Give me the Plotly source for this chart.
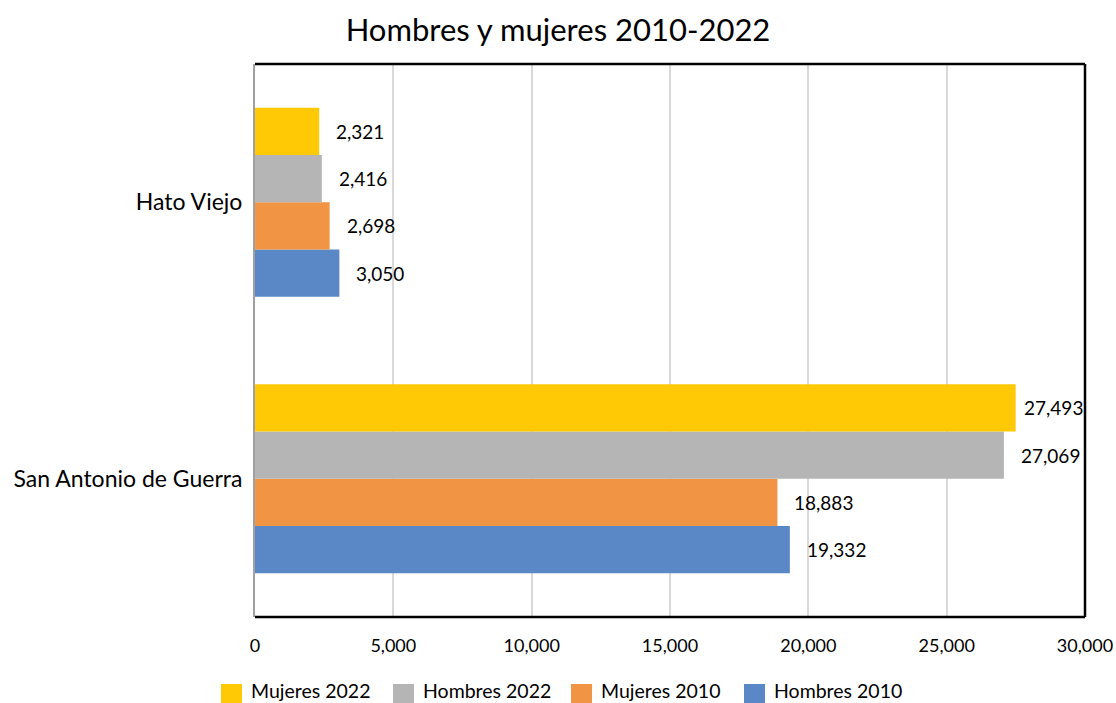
import plotly.graph_objects as go

# Population by sex, 2010 and 2022
categories = ["San Antonio de Guerra", "Hato Viejo"]
series_names = ["Hombres 2010", "Mujeres 2010", "Hombres 2022", "Mujeres 2022"]
hombres_2010 = [19332, 3050]
mujeres_2010 = [18883, 2698]
hombres_2022 = [27069, 2416]
mujeres_2022 = [27493, 2321]
x_ticks = [0, 5000, 10000, 15000, 20000, 25000, 30000]

series_values = [hombres_2010, mujeres_2010, hombres_2022, mujeres_2022]
colors = ["#5A87C6", "#F19444", "#B5B5B5", "#FFC905"]
FONT = "Lato, Open Sans, sans-serif"
X_MAX = 30000

W, H = 1116, 703
M_L, M_R, M_T, M_B = 255, 31, 64, 86
PW, PH = W - M_L - M_R, H - M_T - M_B

fig = go.Figure()
for name, vals, col in zip(series_names, series_values, colors):
    fig.add_trace(go.Bar(
        y=categories, x=vals, name=name, orientation="h",
        marker=dict(color=col, line=dict(width=0)),
        hoverinfo="x+name", showlegend=False,
    ))

# Value labels placed just to the right of each bar end
n = len(series_names)
group_w = 1 - 0.316
bar_w = group_w / n
for i, vals in enumerate(series_values):
    for j, v in enumerate(vals):
        offset = -group_w / 2 + bar_w * (i + 0.5)
        shift = 15 if v < 27300 else 6
        fig.add_annotation(
            x=v, y=j + offset, yref="y", xref="x",
            text=f"{v:,}", showarrow=False, xanchor="left", yanchor="middle",
            xshift=shift, font=dict(family=FONT, size=19, color="#000000"),
        )

# Frame on top, right and bottom of the plot area
for x0, x1, y0, y1 in [(0, 1, 1, 1), (1, 1, 0, 1), (0, 1, 0, 0)]:
    fig.add_shape(type="line", xref="paper", yref="paper",
                  x0=x0, x1=x1, y0=y0, y1=y1,
                  line=dict(color="#000000", width=2.5))

# Legend row along the bottom: colour box + label (newest series first)
def px_to_paper_x(px):
    return (px - M_L) / PW

def px_to_paper_y(py):
    return (H - M_B - py) / PH

legend_left = [221, 393, 571, 744]
for left, name, col in zip(legend_left, series_names[::-1], colors[::-1]):
    fig.add_shape(type="rect", xref="paper", yref="paper",
                  x0=px_to_paper_x(left), x1=px_to_paper_x(left + 21),
                  y0=px_to_paper_y(684), y1=px_to_paper_y(703),
                  fillcolor=col, line=dict(width=0), layer="above")
    fig.add_annotation(x=px_to_paper_x(left + 28), y=px_to_paper_y(690),
                       xref="paper", yref="paper", text=name, showarrow=False,
                       xanchor="left", yanchor="middle",
                       font=dict(family=FONT, size=19.5, color="#000000"))

fig.update_layout(
    width=W, height=H,
    margin=dict(l=M_L, r=M_R, t=M_T, b=M_B, autoexpand=False),
    paper_bgcolor="white", plot_bgcolor="white",
    barmode="group", bargap=0.316, bargroupgap=0,
    title=dict(text="Hombres y mujeres 2010-2022", x=0.5, xanchor="center",
               xref="container", y=1 - 30 / H, yanchor="middle",
               font=dict(family=FONT, size=31, color="#000000")),
    font=dict(family=FONT, color="#000000"),
    xaxis=dict(range=[0, X_MAX], tickvals=x_ticks, tickformat=",d",
               showgrid=True, gridcolor="#D9D9D9", gridwidth=2,
               zeroline=False, showline=False, ticks="", automargin=False,
               tickfont=dict(family=FONT, size=18, color="#000000"),
               ticklabelstandoff=16, fixedrange=True),
    yaxis=dict(showline=True, linecolor="#A0A0A0", linewidth=2, ticks="",
               automargin=False,
               tickfont=dict(family=FONT, size=23, color="#000000"),
               ticklabelstandoff=6, fixedrange=True),
    showlegend=False,
)

fig.write_html("out.html")
